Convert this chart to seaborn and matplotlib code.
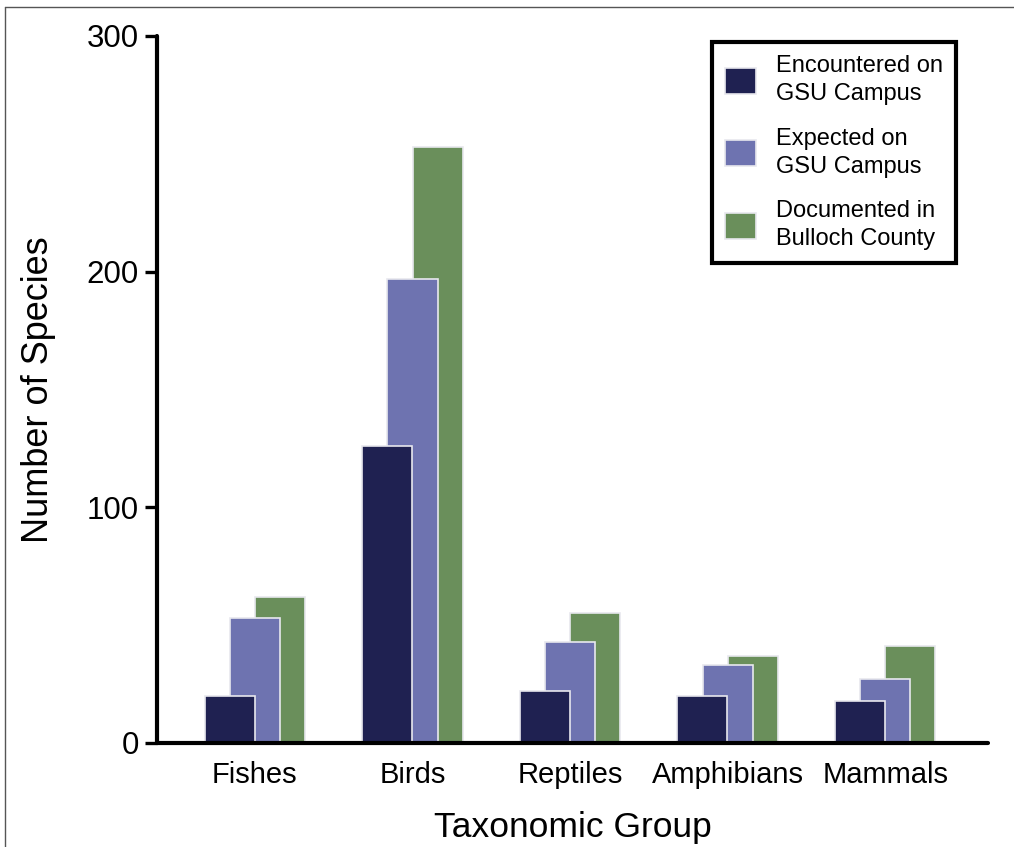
import numpy as np
import pandas as pd
import matplotlib
matplotlib.use("Agg")
import matplotlib.pyplot as plt
import seaborn as sns
from matplotlib.lines import Line2D

groups = ["Fishes", "Birds", "Reptiles", "Amphibians", "Mammals"]
encountered = [20, 126, 22, 20, 18]
expected = [53, 197, 43, 33, 27]
documented = [62, 253, 55, 37, 41]

series_names = ["Encountered on\nGSU Campus", "Expected on\nGSU Campus", "Documented in\nBulloch County"]
series_colors = ["#1f2151", "#6e73b0", "#6a8f5b"]

sns.set_style("white")
plt.rcParams['font.family'] = ['Liberation Sans', 'DejaVu Sans']
plt.rcParams['text.color'] = 'black'
plt.rcParams['axes.labelcolor'] = 'black'
plt.rcParams['xtick.color'] = 'black'
plt.rcParams['ytick.color'] = 'black'

fig = plt.figure(figsize=(10.14, 8.47), dpi=100)
ax = fig.add_axes([0.155, 0.1228, 0.819, 0.8347])

pos = np.arange(len(groups))
offsets = [-0.16, 0.0, 0.16]
values = [encountered, expected, documented]

# draw back to front: documented, expected, encountered
for i in [2, 1, 0]:
    df = pd.DataFrame({"x": pos + offsets[i], "y": values[i]})
    sns.barplot(data=df, x="x", y="y", native_scale=True, width=0.318,
                color=series_colors[i], saturation=1, edgecolor="#e8e8ee",
                linewidth=1.2, ax=ax, label=series_names[i])

ax.set_xlim(-0.62, 4.65)
ax.set_ylim(0, 300)
ax.set_xticks(pos)
ax.set_xticklabels(groups, fontsize=21)
ax.set_yticks([0, 100, 200, 300])
ax.set_yticklabels(["0", "100", "200", "300"], fontsize=22.5)
ax.tick_params(axis="y", direction="out", length=9, width=2.4, left=True, pad=4)
ax.tick_params(axis="x", length=0, pad=13)
ax.set_xlabel("Taxonomic Group", fontsize=25.5, labelpad=16)
ax.set_ylabel("Number of Species", fontsize=26, labelpad=22)

sns.despine(ax=ax)
for s in ["left", "bottom"]:
    ax.spines[s].set_linewidth(3)
    ax.spines[s].set_color("black")
    ax.spines[s].set_capstyle("round")

handles, labels = ax.get_legend_handles_labels()
order = [labels.index(n) for n in series_names]
leg = ax.legend([handles[k] for k in order], [labels[k] for k in order],
                loc="upper right", bbox_to_anchor=(0.962, 0.991), borderaxespad=0,
                fontsize=17, frameon=True, fancybox=False, edgecolor="black",
                framealpha=1, handlelength=1.3, handleheight=1.3, handletextpad=0.85,
                labelspacing=0.95, borderpad=0.55)
leg.get_frame().set_linewidth(3)
for t in leg.get_texts():
    t.set_linespacing(1.35)

# thin gray frame of the original image
fig.add_artist(Line2D([5 / 1014, 5 / 1014], [0, 1 - 7 / 847], color="#555555", lw=1))
fig.add_artist(Line2D([5 / 1014, 1], [1 - 7 / 847, 1 - 7 / 847], color="#555555", lw=1))

fig.savefig("out.png", dpi=100)
